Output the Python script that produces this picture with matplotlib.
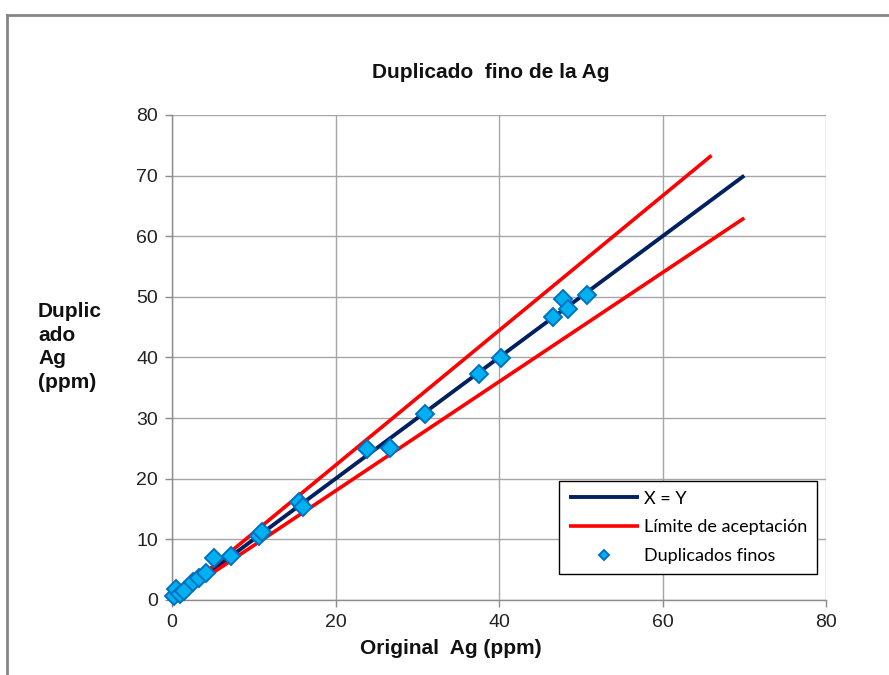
import matplotlib
matplotlib.use("Agg")
import matplotlib.pyplot as plt
from matplotlib.lines import Line2D
import numpy as np

# Duplicate pairs (original vs. fine duplicate), Ag in ppm
original_ag = [0.2, 0.5, 1.0, 1.5, 2.6, 3.3, 4.2, 5.1, 7.2, 10.6, 11.0,
               15.5, 16.0, 23.9, 26.7, 31.0, 37.5, 40.3, 46.6, 47.8, 48.4, 50.8]
duplicado_ag = [0.6, 1.8, 1.0, 1.5, 3.0, 3.6, 4.5, 7.0, 7.2, 10.5, 11.2,
                16.1, 15.4, 24.9, 25.1, 30.7, 37.3, 39.9, 46.7, 49.6, 48.0, 50.3]

# Reference line X = Y and the acceptance limits (±10 %)
xy_x = [0, 70]
xy_y = [0, 70]
upper_x = [0, 66]
upper_y = [0, 66 / 0.9]
lower_x = [0, 70]
lower_y = [0, 70 * 0.9]

x_ticks = [0, 20, 40, 60, 80]
y_ticks = [0, 10, 20, 30, 40, 50, 60, 70, 80]

W, H = 889, 675
fig = plt.figure(figsize=(W / 100, H / 100), dpi=100)
fig.patch.set_facecolor("white")

# Outer chart frame (top and left edges visible)
frame_kw = dict(color="#858585", lw=2.0, transform=fig.transFigure)
fig.add_artist(Line2D([7 / W, 1.0], [1 - 15 / H, 1 - 15 / H], **frame_kw))
fig.add_artist(Line2D([7 / W, 7 / W], [1 - 15 / H, 0.0], **frame_kw))

ax = fig.add_axes([172 / W, 75 / H, (826 - 172) / W, (600 - 115) / H])
ax.set_xlim(0, 80)
ax.set_ylim(0, 80)
ax.set_xticks(x_ticks)
ax.set_yticks(y_ticks)

tick_font = dict(family=["Liberation Sans", "DejaVu Sans"], size=14, color="#222222")
ax.set_xticklabels([str(t) for t in x_ticks], **tick_font)
ax.set_yticklabels([str(t) for t in y_ticks], **tick_font)
ax.tick_params(axis="both", direction="out", length=5, width=1, color="#8c8c8c", pad=5)

ax.grid(True, color="#a6a6a6", lw=1.0)
ax.set_axisbelow(True)
for side in ["top", "right"]:
    ax.spines[side].set_visible(False)
for side in ["left", "bottom"]:
    ax.spines[side].set_color("#8c8c8c")
    ax.spines[side].set_linewidth(1.0)

ax.plot(xy_x, xy_y, color="#002060", lw=2.8, solid_capstyle="butt", label="X = Y", zorder=3)
ax.plot(upper_x, upper_y, color="#ff0000", lw=2.6, solid_capstyle="butt",
        label="Límite de aceptación", zorder=3)
ax.plot(lower_x, lower_y, color="#ff0000", lw=2.6, solid_capstyle="butt", zorder=3)
ax.plot(original_ag, duplicado_ag, linestyle="none", marker="D", markersize=9.5,
        markerfacecolor="#00b0f0", markeredgecolor="#0070c0", markeredgewidth=1.4,
        label="Duplicados finos", zorder=4, clip_on=False)

leg = ax.legend(loc="lower right", bbox_to_anchor=(817 / W, 101 / H),
                bbox_transform=fig.transFigure, frameon=True, fancybox=False,
                edgecolor="black", framealpha=1.0, borderpad=0.55,
                borderaxespad=0.0,
                labelspacing=0.7, handlelength=3.9, handletextpad=0.25,
                prop=dict(family=["Lato", "DejaVu Sans"], size=13),
                markerscale=0.55)
leg.get_frame().set_linewidth(1.0)

bold = dict(family=["Liberation Sans", "DejaVu Sans"], weight="bold", size=15, color="#111111")
fig.text(491 / W, 1 - 72 / H, "Duplicado  fino de la Ag", ha="center", va="center", **bold)
fig.text(451 / W, 1 - 649 / H, "Original  Ag (ppm)", ha="center", va="center", **bold)
fig.text(38 / W, 1 - 302 / H, "Duplic\nado\nAg\n(ppm)", ha="left", va="top",
         linespacing=1.3, **bold)

fig.savefig("out.png", dpi=100, facecolor="white")
